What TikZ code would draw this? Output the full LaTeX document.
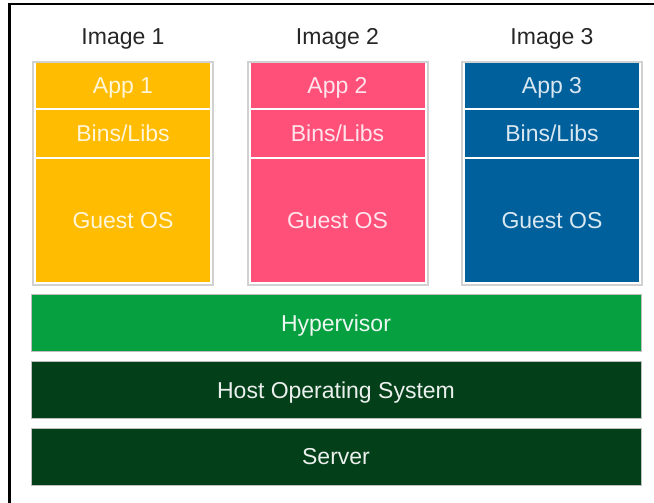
\documentclass[tikz,border=0pt]{standalone}
\usepackage{fontspec}
\setmainfont{Liberation Sans}
\usetikzlibrary{positioning}
\definecolor{imgyellow}{RGB}{255,188,0}
\definecolor{imgpink}{RGB}{255,80,122}
\definecolor{imgblue}{RGB}{0,96,156}
\definecolor{hvgreen}{RGB}{6,160,64}
\definecolor{hostgreen}{RGB}{3,64,26}
\tikzstyle{tier} = [minimum width=174pt, inner sep=0pt, outer sep=0pt, text=white, text opacity=0.85, text height=16.5pt, text depth=0pt]
\tikzstyle{bar}  = [minimum width=610pt, minimum height=57pt, draw=black!25, line width=0.8pt, inner sep=0pt, text=white, text opacity=0.92, text height=16.5pt, text depth=0pt]
\begin{document}
\begin{tikzpicture}[x=1pt, y=-1pt, font=\fontsize{23}{27}\selectfont,
			frame/.style={draw=black!18, line width=2pt, minimum width=180pt, minimum height=223pt, fill=white}]
		\useasboundingbox (0,0) rectangle (654,503);
		\draw[line width=2.2pt] (9.5,503) -- (9.5,4.3) -- (654,4.3);

		\foreach \i/\col in {1/imgyellow, 2/imgpink, 3/imgblue} {
				\node[frame] (frame\i) at ({123+214.5*(\i-1)},173.5) {};
				\node[anchor=base, text=black!85] (label\i) at ({123+214.5*(\i-1)},45) {Image \i};
				\node[tier, fill=\col, minimum height=45pt] (app\i) at ({123+214.5*(\i-1)},85.5) {App \i};
				\node[tier, fill=\col, minimum height=47pt, below=2pt of app\i] (bins\i) {Bins/Libs};
				\node[tier, fill=\col, minimum height=123pt, below=2pt of bins\i] (guest\i) {Guest OS};
			}

		\node[bar, fill=hvgreen] (hyper) at (336,323) {Hypervisor};
		\node[bar, fill=hostgreen, below=9pt of hyper] (hostos) {Host Operating System};
		\node[bar, fill=hostgreen, below=9pt of hostos] (server) {Server};
	\end{tikzpicture}
\end{document}
